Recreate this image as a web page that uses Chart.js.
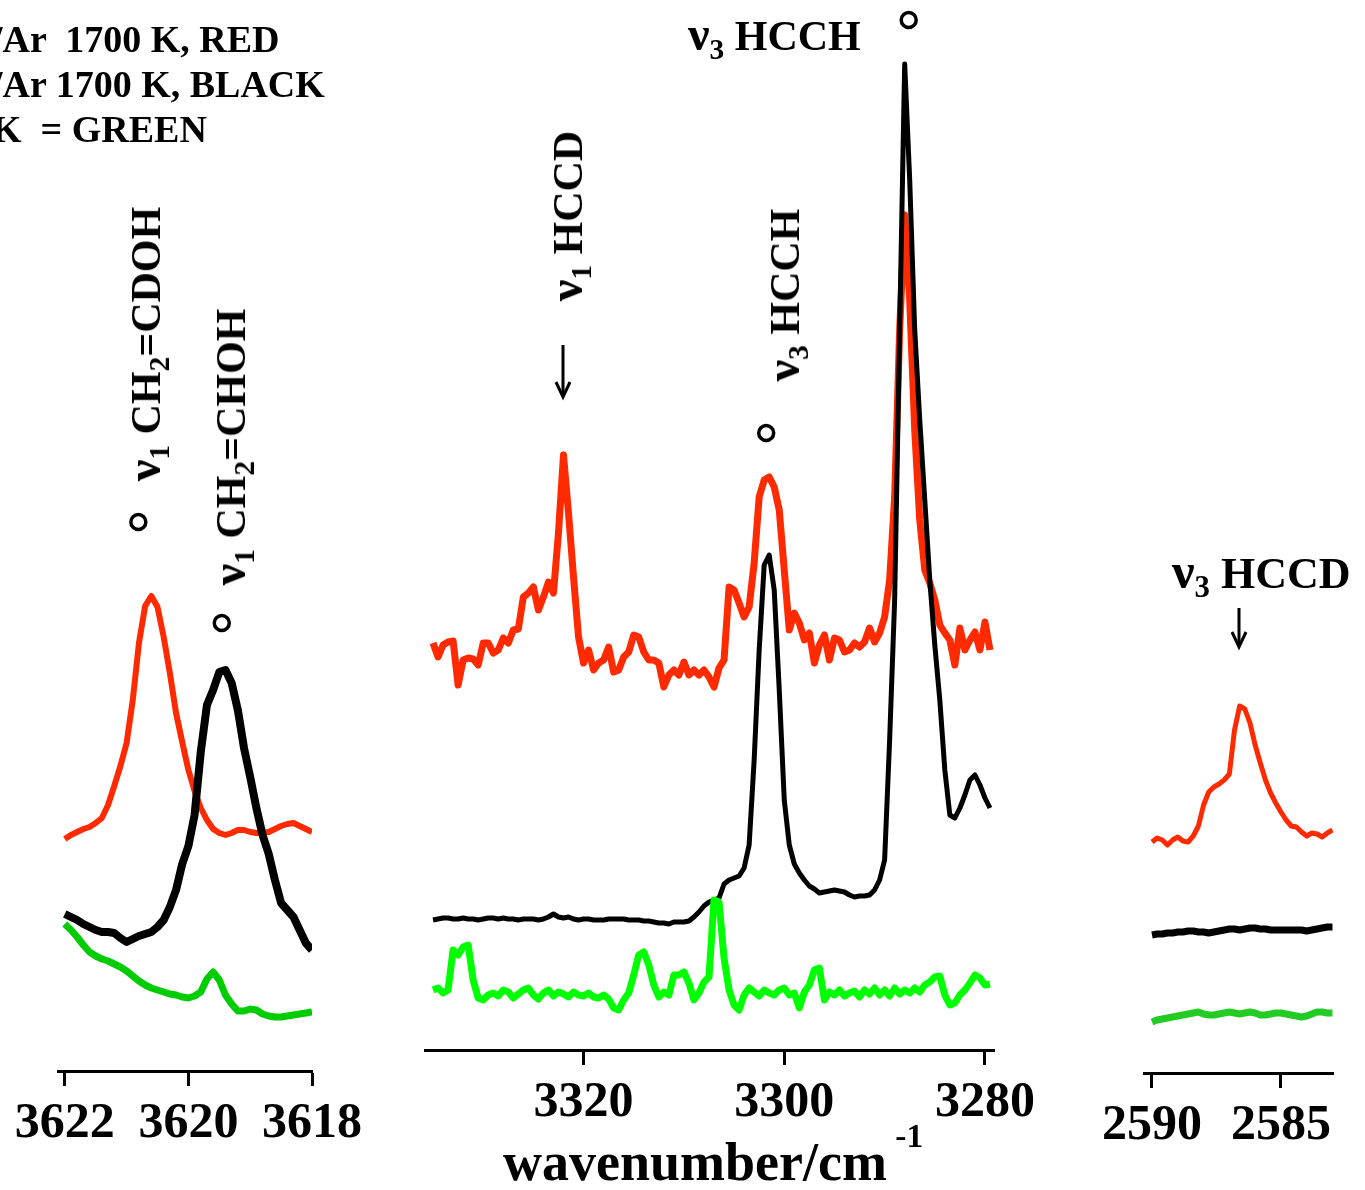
<!DOCTYPE html>
<html lang="en">

<head>
    <meta charset="UTF-8">
    <title>IR spectra</title>
    <style>
        body {
            margin: 0;
            background: #fff;
            overflow: hidden;
            font-family: 'Liberation Serif', 'DejaVu Serif', serif;
            font-weight: bold;
            color: #000;
        }

        #page {
            position: relative;
            width: 1365px;
            height: 1190px;
            overflow: hidden;
        }

        canvas {
            position: absolute;
            top: 0;
        }

        .txt {
            position: absolute;
            white-space: pre;
            font-size: 42px;
            line-height: 42px;
        }

        .rot {
            transform: translate(-50%, -50%) rotate(-90deg);
        }

        .legend {
            position: absolute;
            white-space: pre;
            font-size: 38px;
            line-height: 45px;
        }

        sub {
            font-size: 70%;
            vertical-align: baseline;
            position: relative;
            top: 0.3em;
        }

        .nu {
            font-size: 115%;
        }

        .sup {
            font-size: 0.62em;
            position: relative;
            top: -1.0em;
            margin-left: 0.25em;
        }

        svg {
            position: absolute;
            overflow: visible;
        }
    </style>
</head>

<body>
    <div id="page">
        <canvas id="p1"></canvas>
        <canvas id="p2"></canvas>
        <canvas id="p3"></canvas>

        <div class="legend" style="left:-8px; top:17px;">/Ar  1700 K, RED
/Ar 1700 K, BLACK
K  = GREEN</div>

        <div class="txt rot" style="left:147px; top:344px;"><span class="nu">ν</span><sub>1</sub> CH<sub>2</sub>=CDOH</div>
        <div class="txt rot" style="left:232px; top:447px;"><span class="nu">ν</span><sub>1</sub> CH<sub>2</sub>=CHOH</div>
        <div class="txt rot" style="left:569px; top:216px;"><span class="nu">ν</span><sub>1</sub> HCCD</div>
        <div class="txt rot" style="left:786px; top:295px;"><span class="nu">ν</span><sub>3</sub> HCCH</div>
        <div class="txt" style="left:688px; top:13px;"><span class="nu">ν</span><sub>3</sub> HCCH</div>
        <div class="txt" style="left:1172px; top:549px; font-size:44px; line-height:44px;"><span class="nu">ν</span><sub>3</sub> HCCD</div>

        <svg style="left:0; top:0;" width="1" height="1">
            <g stroke="#000" stroke-width="3" fill="none">
                <line x1="563" y1="345" x2="563" y2="396" />
                <polyline points="556,382 563,397 570,382" />
                <line x1="1239" y1="608" x2="1239" y2="646" />
                <polyline points="1232,632 1239,647 1246,632" />
            </g>
        </svg>

        <div class="txt" style="left:503px; top:1135px; font-size:54px; line-height:54px;">wavenumber/cm<span class="sup">-1</span></div>
    </div>

    <script src="https://cdn.jsdelivr.net/npm/chart.js"></script>
    <script>
        // ---- panel 1: 3622 - 3618 cm-1 ----
        const wn1 = [3622.0, 3621.9, 3621.8, 3621.7, 3621.6, 3621.5, 3621.4, 3621.3, 3621.2, 3621.1,
            3621.0, 3620.9, 3620.8, 3620.7, 3620.6, 3620.5, 3620.4, 3620.3, 3620.2, 3620.1,
            3620.0, 3619.9, 3619.8, 3619.7, 3619.6, 3619.5, 3619.4, 3619.3, 3619.2, 3619.1,
            3619.0, 3618.9, 3618.8, 3618.7, 3618.6, 3618.5, 3618.4, 3618.3, 3618.2, 3618.1, 3618.0];
        const red1 = [23.2, 23.6, 23.9, 24.2, 24.4, 24.8, 25.3, 26.6, 28.5, 30.5,
            32.8, 37.1, 42.8, 46.5, 47.5, 46.4, 43.4, 39.8, 35.8, 32.9,
            30.1, 28.0, 26.3, 25.1, 24.2, 23.8, 23.6, 23.8, 24.1, 24.1,
            23.9, 23.8, 23.8, 23.9, 24.2, 24.5, 24.7, 24.8, 24.5, 24.2, 23.9];
        const black1 = [15.7, 15.4, 15.1, 14.7, 14.4, 14.1, 13.9, 13.9, 13.8, 13.3,
            12.9, 13.2, 13.5, 13.7, 13.9, 14.4, 15.1, 16.4, 18.1, 20.7,
            22.5, 25.6, 31.9, 36.6, 38.1, 39.9, 40.1, 38.8, 36.1, 32.3,
            29.4, 26.3, 23.6, 21.7, 19.1, 16.8, 16.1, 15.4, 14.1, 12.8, 12.1];
        const green1 = [14.7, 14.1, 13.4, 12.6, 11.9, 11.5, 11.2, 11.0, 10.7, 10.4,
            10.0, 9.5, 9.0, 8.6, 8.3, 8.1, 7.9, 7.7, 7.6, 7.4,
            7.3, 7.5, 7.9, 9.2, 9.9, 9.1, 7.6, 6.7, 6.0, 6.0,
            6.2, 6.1, 5.7, 5.5, 5.4, 5.4, 5.5, 5.6, 5.7, 5.8, 5.9];
        const marks1 = [[3620.81, 54.9], [3619.46, 44.8]];
        const ticks1 = [3622, 3620, 3618];

        // ---- panel 2: 3335 - 3280 cm-1 ----
        const wn2 = [3335.0, 3334.5, 3334.0, 3333.5, 3333.0, 3332.5, 3332.0, 3331.5, 3331.0, 3330.5,
            3330.0, 3329.5, 3329.0, 3328.5, 3328.0, 3327.5, 3327.0, 3326.5, 3326.0, 3325.5,
            3325.0, 3324.5, 3324.0, 3323.5, 3323.0, 3322.5, 3322.0, 3321.5, 3321.0, 3320.5,
            3320.0, 3319.5, 3319.0, 3318.5, 3318.0, 3317.5, 3317.0, 3316.5, 3316.0, 3315.5,
            3315.0, 3314.5, 3314.0, 3313.5, 3313.0, 3312.5, 3312.0, 3311.5, 3311.0, 3310.5,
            3310.0, 3309.5, 3309.0, 3308.5, 3308.0, 3307.5, 3307.0, 3306.5, 3306.0, 3305.5,
            3305.0, 3304.5, 3304.0, 3303.5, 3303.0, 3302.5, 3302.0, 3301.5, 3301.0, 3300.5,
            3300.0, 3299.5, 3299.0, 3298.5, 3298.0, 3297.5, 3297.0, 3296.5, 3296.0, 3295.5,
            3295.0, 3294.5, 3294.0, 3293.5, 3293.0, 3292.5, 3292.0, 3291.5, 3291.0, 3290.5,
            3290.0, 3289.5, 3289.0, 3288.5, 3288.0, 3287.5, 3287.0, 3286.5, 3286.0, 3285.5,
            3285.0, 3284.5, 3284.0, 3283.5, 3283.0, 3282.5, 3282.0, 3281.5, 3281.0, 3280.5,
            3280.0, 3279.5];
        const red2 = [40.7, 39.3, 40.5, 40.8, 40.9, 36.5, 39.0, 39.2, 39.1, 38.5,
            40.7, 40.7, 39.7, 40.0, 41.2, 40.7, 42.0, 42.1, 45.3, 45.7,
            46.3, 44.0, 45.3, 46.8, 45.7, 51.7, 59.5, 53.7, 47.3, 41.3,
            38.7, 40.0, 38.0, 38.7, 39.0, 40.3, 37.8, 38.0, 39.3, 39.8,
            41.5, 41.3, 39.8, 39.0, 39.0, 38.7, 36.3, 37.5, 38.0, 37.5,
            38.8, 37.5, 38.0, 37.5, 38.0, 37.3, 36.3, 38.2, 39.0, 46.3,
            46.0, 44.7, 43.3, 44.3, 48.7, 55.3, 57.0, 57.3, 56.3, 54.0,
            48.0, 42.0, 43.7, 42.7, 41.0, 41.7, 38.7, 40.5, 41.5, 39.0,
            41.2, 41.0, 39.8, 40.0, 40.7, 40.3, 40.8, 42.2, 40.8, 41.7,
            43.3, 47.0, 55.3, 72.0, 83.5, 75.0, 62.0, 53.0, 48.0, 46.7,
            45.0, 42.5, 41.7, 41.0, 38.5, 42.2, 40.0, 41.0, 41.8, 40.0,
            42.8, 40.0];
        const black2 = [13.0, 13.1, 13.2, 13.2, 13.1, 13.1, 13.2, 13.1, 13.1, 13.0,
            13.1, 13.2, 13.2, 13.1, 13.2, 13.1, 13.1, 13.0, 13.1, 13.1,
            13.1, 13.0, 13.1, 13.3, 13.6, 13.3, 13.2, 13.3, 13.1, 13.0,
            13.1, 13.1, 13.0, 13.0, 13.0, 13.1, 13.1, 13.1, 13.1, 13.0,
            13.0, 13.0, 12.9, 12.9, 12.8, 12.7, 12.7, 12.6, 12.8, 12.8,
            12.8, 12.9, 13.3, 13.8, 14.4, 14.8, 15.0, 15.2, 16.6, 17.0,
            17.2, 17.4, 18.2, 20.5, 29.0, 40.0, 48.5, 49.5, 46.0, 36.0,
            25.0, 20.5, 18.6, 17.7, 17.0, 16.4, 16.1, 15.7, 15.8, 15.9,
            16.0, 15.9, 15.8, 15.5, 15.3, 15.4, 15.4, 15.5, 16.0, 17.0,
            19.0, 31.0, 45.0, 72.0, 98.6, 87.0, 72.0, 63.0, 55.0, 47.0,
            40.5, 35.0, 28.0, 23.5, 23.2, 24.2, 25.5, 27.0, 27.5, 26.5,
            25.2, 24.2];
        const green2 = [6.0, 6.2, 5.7, 6.0, 10.0, 9.5, 10.3, 10.5, 7.0, 5.2,
            5.0, 5.5, 5.7, 5.4, 6.0, 5.8, 5.2, 5.6, 6.0, 6.2,
            5.5, 5.1, 5.7, 6.0, 5.4, 5.8, 5.6, 5.3, 5.8, 5.5,
            5.4, 5.7, 5.3, 5.2, 5.5, 5.1, 4.2, 4.0, 5.0, 5.7,
            7.5, 9.5, 9.8, 8.5, 6.5, 5.3, 5.8, 5.5, 7.5, 7.5,
            7.8, 6.7, 5.0, 5.7, 6.8, 7.3, 15.0, 14.8, 9.2, 6.0,
            4.5, 4.0, 5.5, 6.2, 5.8, 5.4, 6.0, 5.7, 5.5, 6.0,
            6.2, 5.5, 5.7, 4.2, 5.8, 6.5, 8.0, 8.2, 5.0, 5.8,
            5.5, 6.0, 5.4, 5.7, 5.9, 5.3, 6.0, 5.6, 6.2, 5.5,
            6.0, 5.4, 6.2, 5.6, 6.0, 5.7, 6.2, 5.8, 6.5, 6.8,
            7.3, 7.4, 5.5, 4.5, 4.7, 5.5, 6.0, 6.7, 7.5, 7.2,
            6.5, 6.6];
        const marks2 = [[3301.8, 61.7], [3287.6, 103.0]];
        const ticks2 = [3320, 3300, 3280];

        // ---- panel 3: 2590 - 2583 cm-1 ----
        const wn3 = [2590.0, 2589.8, 2589.6, 2589.4, 2589.2, 2589.0, 2588.8, 2588.6, 2588.4, 2588.2,
            2588.0, 2587.8, 2587.6, 2587.4, 2587.2, 2587.0, 2586.8, 2586.6, 2586.4, 2586.2,
            2586.0, 2585.8, 2585.6, 2585.4, 2585.2, 2585.0, 2584.8, 2584.6, 2584.4, 2584.2,
            2584.0, 2583.8, 2583.6, 2583.4, 2583.2, 2583.0];
        const red3 = [23.1, 23.5, 23.3, 22.8, 23.3, 23.6, 23.2, 23.1, 23.7, 24.7,
            26.8, 28.1, 28.6, 28.9, 29.3, 29.9, 34.3, 36.7, 36.4, 35.0,
            32.8, 31.0, 29.3, 28.0, 27.0, 26.1, 25.3, 24.7, 24.6, 24.1,
            23.7, 24.0, 23.9, 23.6, 24.0, 24.3];
        const black3 = [13.8, 13.9, 13.9, 14.0, 14.0, 14.1, 14.1, 14.2, 14.2, 14.1,
            14.1, 14.0, 14.1, 14.2, 14.3, 14.4, 14.4, 14.3, 14.4, 14.5,
            14.5, 14.4, 14.4, 14.3, 14.3, 14.3, 14.3, 14.3, 14.3, 14.3,
            14.2, 14.3, 14.4, 14.5, 14.6, 14.6];
        const green3 = [5.1, 5.3, 5.4, 5.5, 5.6, 5.7, 5.8, 5.9, 6.0, 6.1,
            5.9, 5.8, 5.8, 5.9, 6.0, 6.1, 6.0, 5.9, 6.0, 6.1,
            6.0, 5.8, 5.8, 5.9, 6.0, 6.0, 5.9, 5.8, 5.7, 5.6,
            5.7, 5.9, 6.1, 6.1, 6.0, 6.0];
        const ticks3 = [2590, 2585];

        const RED = '#FF2A00';
        const PAD = 60;

        function pts(xs, ys) {
            return xs.map((x, i) => ({ x: x, y: ys[i] }));
        }

        function line(xs, ys, color, width, order) {
            return {
                data: pts(xs, ys),
                borderColor: color,
                borderWidth: width,
                pointRadius: 0,
                tension: 0,
                borderJoinStyle: 'round',
                order: order,
            };
        }

        function circles(list) {
            return {
                type: 'scatter',
                data: list.map(p => ({ x: p[0], y: p[1] })),
                showLine: false,
                pointRadius: 7.5,
                pointBorderWidth: 3.5,
                pointBorderColor: '#000',
                pointBackgroundColor: 'rgba(0,0,0,0)',
                clip: false,
                order: 0,
            };
        }

        function noPad(s) {
            s.paddingTop = 0;
            s.paddingBottom = 0;
            s.paddingLeft = 0;
            s.paddingRight = 0;
        }

        function panel(id, left, right, axisY, xmax, xmin, ticks, datasets) {
            const cv = document.getElementById(id);
            cv.width = right - left + 2 * PAD;
            cv.height = 1190;
            cv.style.left = (left - PAD) + 'px';

            new Chart(cv.getContext('2d'), {
                type: 'line',
                data: { datasets: datasets },
                options: {
                    responsive: false,
                    animation: false,
                    layout: { autoPadding: false, padding: { left: PAD, right: PAD, top: 0, bottom: 0 } },
                    plugins: { legend: { display: false }, tooltip: { enabled: false } },
                    scales: {
                        x: {
                            type: 'linear',
                            reverse: true,
                            min: xmin,
                            max: xmax,
                            afterBuildTicks: s => { s.ticks = ticks.map(v => ({ value: v })); },
                            afterFit: s => {
                                s.height = 1190 - axisY;
                                noPad(s);
                            },
                            grid: {
                                display: true,
                                drawOnChartArea: false,
                                drawTicks: true,
                                tickLength: 15,
                                tickWidth: 3,
                                tickColor: '#000',
                            },
                            border: { display: true, color: '#000', width: 3 },
                            ticks: {
                                color: '#000',
                                padding: 8,
                                maxRotation: 0,
                                autoSkip: false,
                                font: { family: 'Liberation Serif', weight: 'bold', size: 50 },
                                callback: v => String(v),
                            },
                        },
                        y: {
                            display: false,
                            min: 0,
                            max: axisY / 10,
                            afterFit: noPad,
                        },
                    },
                },
            });
        }

        panel('p1', 58, 312, 1071, 3622.11, 3618.0, ticks1, [
            line(wn1, red1, RED, 6, 3),
            line(wn1, black1, '#000', 8, 2),
            line(wn1, green1, '#00CC00', 7, 1),
            circles(marks1),
        ]);

        panel('p2', 425, 994, 1050, 3335.8, 3279.1, ticks2, [
            line(wn2, red2, RED, 7, 3),
            line(wn2, black2, '#000', 5, 2),
            line(wn2, green2, '#00FF00', 7, 1),
            circles(marks2),
        ]);

        panel('p3', 1144, 1333, 1073, 2590.31, 2582.98, ticks3, [
            line(wn3, red3, RED, 5, 3),
            line(wn3, black3, '#000', 7, 2),
            line(wn3, green3, '#22CC22', 7, 1),
        ]);
    </script>
</body>

</html>
